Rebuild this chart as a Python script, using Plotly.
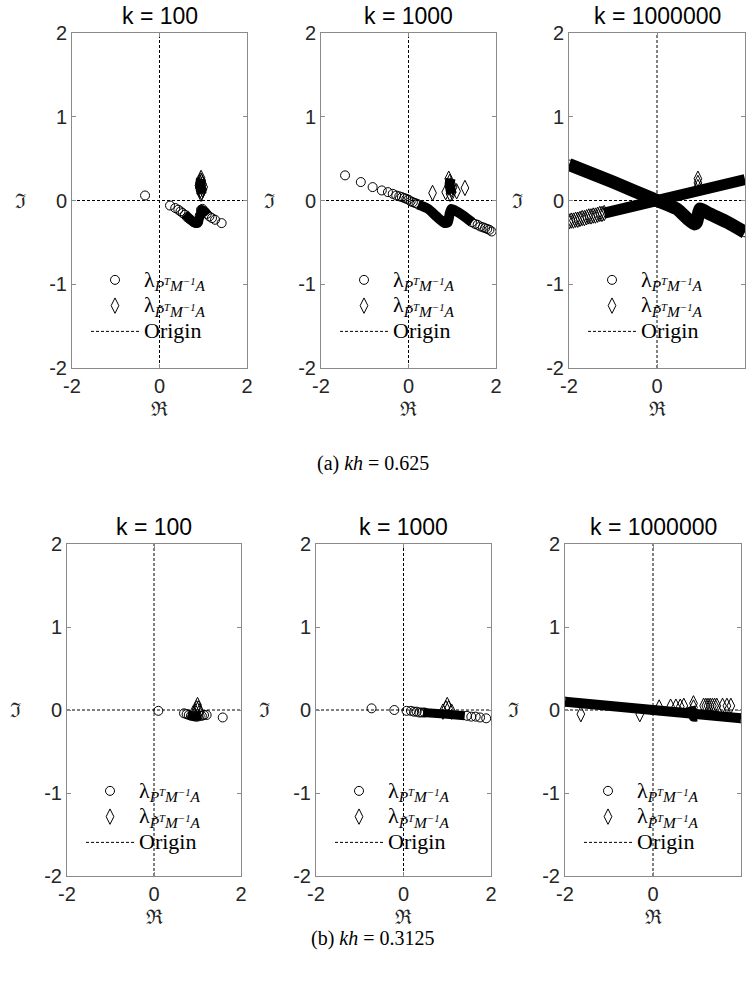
import plotly.graph_objects as go

# ---------------- data ----------------
titles = ["k = 100", "k = 1000", "k = 1000000"]
captions = ["(a) <i>kh</i> = 0.625", "(b) <i>kh</i> = 0.3125"]
xticks = [-2, 0, 2]
yticks = [-2, -1, 0, 1, 2]

# row (a) kh = 0.625, k = 100
a1_cx = [-0.33, 0.24, 0.36, 0.43, 0.48, 0.53, 0.58, 0.63, 0.68, 0.73, 0.78, 0.83, 0.88, 0.92, 0.95, 0.98, 1.03, 1.08, 1.14, 1.20, 1.27, 1.42]
a1_cy = [0.06, -0.06, -0.09, -0.11, -0.13, -0.15, -0.17, -0.20, -0.22, -0.24, -0.26, -0.27, -0.26, -0.18, -0.11, -0.10, -0.13, -0.16, -0.19, -0.21, -0.23, -0.27]
a1_bx = [0.58, 0.70, 0.82, 0.88, 0.92, 0.96, 1.04, 1.10]
a1_by = [-0.16, -0.22, -0.27, -0.27, -0.20, -0.11, -0.13, -0.17]
a1_dx = [0.95, 0.94, 0.92, 0.90, 0.91, 0.93, 0.96, 0.99, 1.01, 0.98, 0.96, 0.95]
a1_dy = [0.27, 0.24, 0.21, 0.18, 0.15, 0.12, 0.10, 0.13, 0.16, 0.20, 0.23, 0.08]
a1_dbx = [0.95, 0.93, 0.95, 0.96]
a1_dby = [0.26, 0.19, 0.13, 0.08]

# row (a), k = 1000
a2_cx = [-1.45, -1.09, -0.82, -0.61, -0.47, -0.36, -0.28, -0.21, -0.15, -0.10, -0.05, 0.00, 0.05, 0.10, 0.15, 0.20,
         1.45, 1.52, 1.58, 1.64, 1.70, 1.75, 1.80, 1.85, 1.90]
a2_cy = [0.30, 0.22, 0.16, 0.12, 0.10, 0.08, 0.06, 0.05, 0.04, 0.03, 0.02, 0.01, -0.01, -0.02, -0.03, -0.04,
         -0.26, -0.28, -0.29, -0.31, -0.32, -0.33, -0.34, -0.35, -0.37]
a2_bx = [0.22, 0.45, 0.64, 0.83, 0.90, 0.94, 0.98, 1.10, 1.25, 1.45]
a2_by = [-0.05, -0.10, -0.19, -0.27, -0.26, -0.16, -0.10, -0.13, -0.18, -0.26]
a2_dx = [0.55, 0.85, 0.92, 0.94, 0.96, 0.98, 1.00, 1.02, 0.95, 1.10, 1.29]
a2_dy = [0.09, 0.10, 0.26, 0.22, 0.18, 0.14, 0.10, 0.16, 0.08, 0.11, 0.15]
a2_dbx = [0.96, 0.94, 0.96, 0.98]
a2_dby = [0.26, 0.19, 0.13, 0.08]

# row (a), k = 1000000
a3_bx = [-2.00, -1.00, 0.00, 0.45, 0.70, 0.85, 0.90, 0.95, 0.98, 1.20, 1.60, 2.00]
a3_by = [0.43, 0.22, 0.00, -0.10, -0.22, -0.28, -0.26, -0.14, -0.10, -0.16, -0.26, -0.38]
a3_dx = [-2.00, -1.95, -1.90, -1.85, -1.80, -1.75, -1.70, -1.65, -1.60, -1.55, -1.50, -1.45, -1.40, -1.35, -1.30, -1.25, -1.20, 0.93, 0.93, 0.93]
a3_dy = [-0.25, -0.24, -0.24, -0.23, -0.23, -0.22, -0.21, -0.21, -0.20, -0.19, -0.19, -0.18, -0.18, -0.17, -0.16, -0.16, -0.15, 0.26, 0.21, 0.16]
a3_dbx = [-1.20, 2.00]
a3_dby = [-0.15, 0.25]

# row (b) kh = 0.3125, k = 100
b1_cx = [0.10, 0.69, 0.75, 0.80, 0.85, 0.90, 0.95, 1.00, 1.05, 1.10, 1.15, 1.21, 1.58]
b1_cy = [-0.01, -0.04, -0.05, -0.06, -0.07, -0.07, -0.08, -0.08, -0.07, -0.07, -0.06, -0.06, -0.09]
b1_bx = [0.78, 0.92, 1.08]
b1_by = [-0.06, -0.08, -0.07]
b1_dx = [1.00, 0.98, 1.02, 0.95, 1.05, 0.90]
b1_dy = [0.06, 0.02, 0.02, -0.02, -0.02, -0.04]

# row (b), k = 1000
b2_cx = [-0.73, -0.21, 0.07, 0.17, 0.24, 0.30, 0.36, 0.42, 0.48, 1.45, 1.55, 1.65, 1.75, 1.89]
b2_cy = [0.02, 0.00, -0.01, -0.01, -0.02, -0.02, -0.03, -0.03, -0.03, -0.07, -0.08, -0.08, -0.09, -0.10]
b2_bx = [0.45, 1.00, 1.40]
b2_by = [-0.03, -0.05, -0.07]
b2_dx = [1.00, 0.97, 1.03, 0.90, 1.10]
b2_dy = [0.06, 0.02, 0.02, -0.02, -0.02]

# row (b), k = 1000000
b3_bx = [-2.00, 0.00, 2.00]
b3_by = [0.10, 0.00, -0.10]
b3_kx = [0.85, 0.92, 1.00]
b3_ky = [0.04, -0.08, -0.08]
b3_dx = [-1.64, -0.30, 0.14, 0.40, 0.52, 0.62, 0.70, 0.92, 0.92, 1.15, 1.20, 1.25, 1.30, 1.35, 1.40, 1.45, 1.58, 1.68, 1.77]
b3_dy = [-0.05, -0.05, 0.03, 0.04, 0.04, 0.04, 0.05, 0.08, 0.03, 0.05, 0.05, 0.05, 0.05, 0.05, 0.05, 0.05, 0.05, 0.05, 0.05]

origin_x = [-2, 2, None, 0, 0]
origin_y = [0, 0, None, -2, 2]

panels = [
    dict(cx=a1_cx, cy=a1_cy, bands=[(a1_bx, a1_by, 9)], dx=a1_dx, dy=a1_dy, dbands=[(a1_dbx, a1_dby, 10)]),
    dict(cx=a2_cx, cy=a2_cy, bands=[(a2_bx, a2_by, 10)], dx=a2_dx, dy=a2_dy, dbands=[(a2_dbx, a2_dby, 10)]),
    dict(cx=a3_bx, cy=a3_by, bands=[(a3_bx, a3_by, 13)], dx=a3_dx, dy=a3_dy, dbands=[(a3_dbx, a3_dby, 11)]),
    dict(cx=b1_cx, cy=b1_cy, bands=[(b1_bx, b1_by, 8)], dx=b1_dx, dy=b1_dy, dbands=[]),
    dict(cx=b2_cx, cy=b2_cy, bands=[(b2_bx, b2_by, 9)], dx=b2_dx, dy=b2_dy, dbands=[]),
    dict(cx=b3_bx, cy=b3_by, bands=[(b3_bx, b3_by, 10), (b3_kx, b3_ky, 10)], dx=b3_dx, dy=b3_dy, dbands=[]),
]

# ---------------- layout geometry ----------------
W, H = 746, 990
xdom_px = [(72, 247), (321, 496), (569, 745), (67, 241), (316, 491), (565, 741)]
ydom_px = [(33, 368)] * 3 + [(544, 876)] * 3

LEGSPAN = '<span style="font-size:22px">%s</span>'
lam1 = LEGSPAN % "λ<sub><i>P<sup>T</sup>M<sup>−1</sup>A</i></sub>"
lam2 = LEGSPAN % "λ<sub><i>P̃<sup>T</sup>M<sup>−1</sup>A</i></sub>"
orig = LEGSPAN % "Origin"

fig = go.Figure()
layout = dict(width=W, height=H, margin=dict(l=0, r=0, t=0, b=0, autoexpand=False),
              paper_bgcolor="white", plot_bgcolor="white", showlegend=True)
annotations = []
tickfont = dict(family="Liberation Sans, Arial", size=20, color="#262626")

for i, p in enumerate(panels):
    n = "" if i == 0 else str(i + 1)
    xa, ya = "x" + n, "y" + n
    leg = "legend" + n
    x0, x1 = xdom_px[i]
    y0, y1 = ydom_px[i]
    layout["xaxis" + n] = dict(domain=[x0 / W, x1 / W], range=[-2, 2], anchor=ya,
                               tickvals=xticks, ticktext=[str(v) for v in xticks],
                               ticks="inside", ticklen=4, tickcolor="#8a8a8a",
                               showline=True, linecolor="#8a8a8a", linewidth=1, mirror="allticks",
                               showgrid=False, zeroline=False, tickfont=tickfont)
    layout["yaxis" + n] = dict(domain=[1 - y1 / H, 1 - y0 / H], range=[-2, 2], anchor=xa,
                               tickvals=yticks, ticktext=[str(v) for v in yticks],
                               ticks="inside", ticklen=4, tickcolor="#8a8a8a",
                               showline=True, linecolor="#8a8a8a", linewidth=1, mirror="allticks",
                               showgrid=False, zeroline=False, tickfont=tickfont)
    # origin lines
    fig.add_trace(go.Scatter(x=origin_x, y=origin_y, mode="lines", name=orig,
                             line=dict(color="black", width=1, dash="3px,2px"),
                             xaxis=xa, yaxis=ya, legend=leg, legendrank=3, hoverinfo="skip"))
    # dense bands of overlapping eigenvalue markers
    for bx, by, w in p["bands"] + p["dbands"]:
        fig.add_trace(go.Scatter(x=bx, y=by, mode="lines", line=dict(color="black", width=w, shape="spline", smoothing=0.5),
                                 xaxis=xa, yaxis=ya, showlegend=False, hoverinfo="skip"))
    fig.add_trace(go.Scatter(x=p["cx"], y=p["cy"], mode="markers", name=lam1,
                             marker=dict(symbol="circle-open", size=9, color="black", line=dict(width=1)),
                             xaxis=xa, yaxis=ya, legend=leg, legendrank=1))
    fig.add_trace(go.Scatter(x=p["dx"], y=p["dy"], mode="markers", name=lam2,
                             marker=dict(symbol="diamond-tall-open", size=11, color="black", line=dict(width=1)),
                             xaxis=xa, yaxis=ya, legend=leg, legendrank=2))
    layout[leg] = dict(x=(x0 + 14) / W, y=1 - (y0 + 229) / H, xanchor="left", yanchor="top",
                       bgcolor="rgba(0,0,0,0)", borderwidth=0, itemwidth=48, tracegroupgap=0,
                       font=dict(family="Liberation Serif, DejaVu Serif", size=17.5, color="black"),
                       itemclick=False, itemdoubleclick=False)
    # title
    annotations.append(dict(text=titles[i % 3], x=(x0 + x1) / 2 / W, y=1 - (y0 - 17) / H,
                            xref="paper", yref="paper", showarrow=False, xanchor="center", yanchor="middle",
                            font=dict(family="Liberation Sans, Arial", size=23, color="black")))
    # axis labels
    annotations.append(dict(text="ℜ", x=(x0 + x1) / 2 / W, y=1 - (y1 + 41) / H,
                            xref="paper", yref="paper", showarrow=False, xanchor="center", yanchor="middle",
                            font=dict(family="DejaVu Serif", size=20, color="#262626")))
    annotations.append(dict(text="ℑ", x=(x0 - 52) / W, y=1 - ((y0 + y1) / 2) / H,
                            xref="paper", yref="paper", showarrow=False, xanchor="center", yanchor="middle",
                            font=dict(family="DejaVu Serif", size=20, color="#262626")))

annotations.append(dict(text=captions[0], x=0.5, y=1 - 463 / H, xref="paper", yref="paper", showarrow=False,
                        font=dict(family="Liberation Serif, DejaVu Serif", size=20, color="black")))
annotations.append(dict(text=captions[1], x=0.5, y=1 - 952 / H, xref="paper", yref="paper", showarrow=False,
                        font=dict(family="Liberation Serif, DejaVu Serif", size=20, color="black")))
layout["annotations"] = annotations
fig.update_layout(**layout)
fig.write_html("out.html", config={"displayModeBar": False},
               post_script="document.body.style.margin='0';document.body.style.overflow='hidden';")
